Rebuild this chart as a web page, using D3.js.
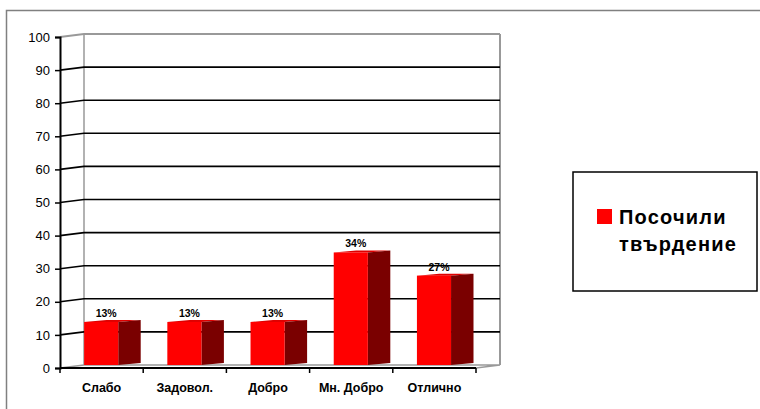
<!DOCTYPE html>
<html><head><meta charset="utf-8">
<script src="https://cdn.jsdelivr.net/npm/d3@7"></script>
<style>body{margin:0;background:#fff}svg{display:block;font-family:Arial,"Liberation Sans",sans-serif}</style>
</head><body>
<svg id="c" width="760" height="409"></svg>
<script>
const categories = ["Слабо", "Задовол.", "Добро", "Мн. Добро", "Отлично"];
const values = [13, 13, 13, 34, 27];
const valueLabels = ["13%", "13%", "13%", "34%", "27%"];
const yTicks = [0, 10, 20, 30, 40, 50, 60, 70, 80, 90, 100];
const seriesName = ["Посочили", "твърдение"];

const svg = d3.select("#c");
const dx = 24, dy = -3;
const x = d3.scaleBand().domain(categories).range([60, 476]).padding(0);
const y = d3.scaleLinear().domain([0, 100]).range([368, 37]);
const bw = x.bandwidth();

// outer border
svg.append("rect").attr("x", 6.5).attr("y", 10.5).attr("width", 800).attr("height", 500)
  .attr("fill", "none").attr("stroke", "#808080").attr("stroke-width", 1.5);

// back wall edges
const g = svg.append("g");
g.append("line").attr("x1", 60 + dx).attr("x2", 60 + dx).attr("y1", y(100) + dy).attr("y2", y(0) + dy).attr("stroke", "#999").attr("stroke-width", 1.5);
g.append("line").attr("x1", 476 + dx).attr("x2", 476 + dx).attr("y1", y(100) + dy).attr("y2", y(0) + dy).attr("stroke", "#999").attr("stroke-width", 2);
// floor
g.append("polygon").attr("points", [[60, y(0)], [60 + dx, y(0) + dy], [476 + dx, y(0) + dy], [476, y(0)]].join(" "))
  .attr("fill", "#fff").attr("stroke", "#999").attr("stroke-width", 1.5);

// gridlines
yTicks.forEach(t => {
  const col = (t === 100 || t === 0) ? "#999" : "#000";
  if (t !== 0) {
    g.append("polyline").attr("points", [[60, y(t)], [60 + dx, y(t) + dy], [476 + dx, y(t) + dy]].join(" "))
      .attr("fill", "none").attr("stroke", col).attr("stroke-width", t === 100 ? 2 : 1.6);
  }
});

// bars
const bars = svg.append("g");
categories.forEach((c, i) => {
  const xl = x(c) + bw * 0.29, fw = bw * 0.41, sd = bw * 0.27, sdy = -2;
  const top = y(values[i]) + dy, bot = y(0) + dy;
  bars.append("polygon").attr("points", [[xl, top], [xl + sd, top + sdy], [xl + fw + sd, top + sdy], [xl + fw, top]].join(" "))
    .attr("fill", "#e00000");
  bars.append("polygon").attr("points", [[xl + fw, top], [xl + fw + sd, top + sdy], [xl + fw + sd, bot + sdy], [xl + fw, bot]].join(" "))
    .attr("fill", "#7a0000");
  bars.append("rect").attr("x", xl).attr("y", top).attr("width", fw).attr("height", bot - top).attr("fill", "#ff0000");
  bars.append("text").attr("x", xl + fw / 2 + 5).attr("y", top - 5).attr("text-anchor", "middle")
    .attr("font-size", 10.5).attr("font-weight", "bold").attr("fill", "#000").text(valueLabels[i]);
});

// axes
const yAxis = d3.axisLeft(y).tickValues(yTicks).tickSize(5).tickPadding(5);
const ya = svg.append("g").attr("transform", "translate(60,0)").call(yAxis);
ya.select(".domain").attr("stroke", "#000").attr("stroke-width", 2);
ya.selectAll(".tick line").attr("stroke", "#000").attr("stroke-width", 1.5);
ya.selectAll("text").attr("font-size", 13).attr("fill", "#000").attr("font-family", "Arial, Liberation Sans, sans-serif");

const xa = svg.append("g").attr("transform", `translate(0,${y(0)})`);
xa.append("line").attr("x1", 60).attr("x2", 476).attr("y1", 0).attr("y2", 0).attr("stroke", "#000").attr("stroke-width", 2);
[...categories.map(c => x(c)), 476].forEach(v => {
  xa.append("line").attr("x1", v).attr("x2", v).attr("y1", 0).attr("y2", 5).attr("stroke", "#000").attr("stroke-width", 1.5);
});
categories.forEach(c => {
  xa.append("text").attr("x", x(c) + bw / 2).attr("y", 24).attr("text-anchor", "middle")
    .attr("font-size", 12.5).attr("font-weight", "bold").attr("fill", "#000").text(c);
});

// legend
const lg = svg.append("g");
lg.append("rect").attr("x", 573).attr("y", 172).attr("width", 184).attr("height", 119)
  .attr("fill", "#fff").attr("stroke", "#000").attr("stroke-width", 1.5);
lg.append("rect").attr("x", 597).attr("y", 209).attr("width", 15).attr("height", 15).attr("fill", "#ff0000");
lg.selectAll("text.l").data(seriesName).join("text").attr("class", "l")
  .attr("x", 619).attr("y", (d, i) => 224 + i * 27)
  .attr("font-size", 20).attr("font-weight", "bold").attr("letter-spacing", 1.2).attr("fill", "#000").text(d => d);
</script>
</body></html>
